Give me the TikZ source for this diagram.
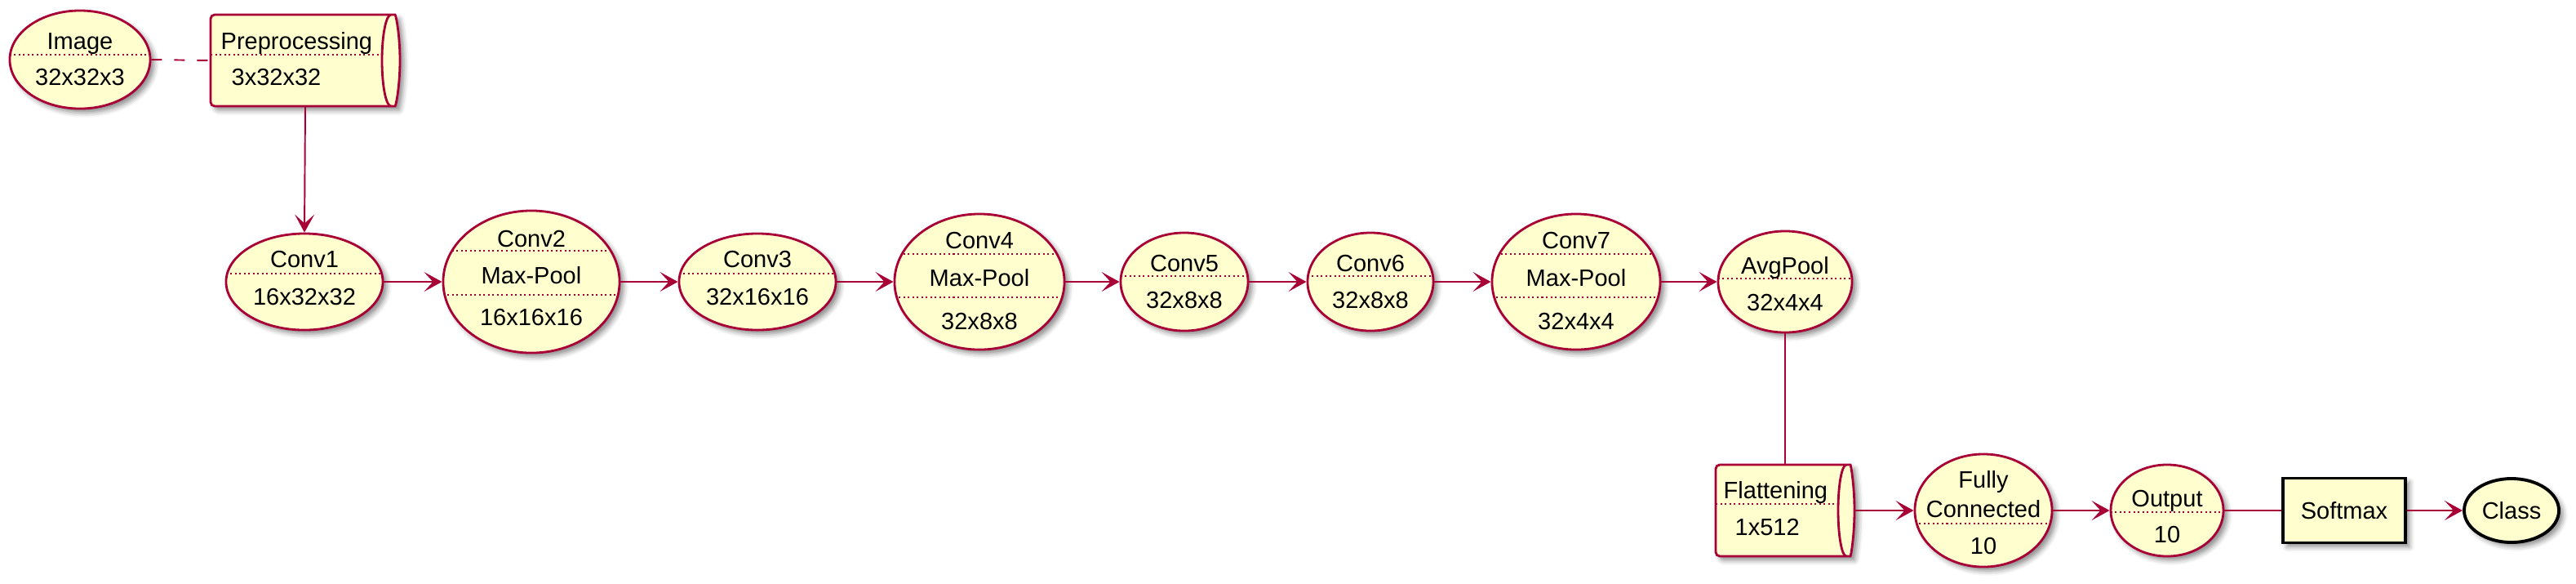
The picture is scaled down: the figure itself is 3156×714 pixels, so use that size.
\documentclass[tikz,border=0pt]{standalone}
\usepackage{fontspec}
\setmainfont{Liberation Sans}
\usepackage{tikz}
\usetikzlibrary{shapes.geometric}
\usetikzlibrary{arrows.meta}
\usetikzlibrary{shadows.blur}
\definecolor{umlred}{HTML}{A80036}
\definecolor{umlyellow}{HTML}{FEFECE}
\tikzset{umlshadow/.style={blur shadow={shadow xshift=0.05cm, shadow yshift=-0.05cm, shadow blur radius=0.06cm, shadow opacity=45}}}
\tikzset{layer/.style={ellipse, draw=umlred, fill=umlyellow, line width=0.8pt, inner sep=0pt, umlshadow}}
\tikzset{sepline/.style={umlred, line width=0.5pt, dash pattern=on 0.02cm off 0.035cm}}
\tikzset{onesep/.style={path picture={
    \draw[sepline] ([yshift=#1]path picture bounding box.west) -- ([yshift=#1]path picture bounding box.east);}}}
\tikzset{twosep/.style 2 args={path picture={
    \draw[sepline] ([yshift=#1]path picture bounding box.west) -- ([yshift=#1]path picture bounding box.east);
    \draw[sepline] ([yshift=#2]path picture bounding box.west) -- ([yshift=#2]path picture bounding box.east);}}}
\tikzset{txt/.style={anchor=base, inner sep=0pt}}
\tikzstyle{queue} = [draw=umlred, fill=umlyellow, line width=0.8pt, umlshadow]
\tikzstyle{queuenode} = [rectangle, inner sep=0pt]
\tikzstyle{flow} = [draw=umlred, line width=0.55pt, -{Stealth[length=0.22cm, width=0.24cm, inset=0.11cm]}]
\tikzstyle{plainline} = [draw=umlred, line width=0.55pt]

\begin{document}
\begin{tikzpicture}[x=0.01cm, y=0.01cm, font=\fontsize{8.25}{10}\selectfont]
\useasboundingbox (0,0) rectangle (3156,-714);

% input and preprocessing
\node[layer, onesep=0.06cm, minimum width=1.72cm, minimum height=1.20cm] (image) at (98,-73) {};
\node[txt] (image-a) at (98,-60) {Image};
\node[txt] (image-b) at (98,-104) {32x32x3};

\node[queuenode, minimum width=2.32cm, minimum height=1.12cm] (prep) at (374,-74) {};
\path[queue] (258,-74) [rounded corners=0.05cm] -- (258,-18) -- (479,-18)
  arc[start angle=90, end angle=-90, x radius=11, y radius=56] -- (258,-130) -- cycle;
\draw[umlred, line width=0.8pt] (479,-18) arc[start angle=90, end angle=270, x radius=11, y radius=56];
\draw[sepline] (258,-67) -- (468,-67);
\node[txt, anchor=base west] (prep-a) at (270,-60) {Preprocessing};
\node[txt, anchor=base west] (prep-b) at (283,-104) {3x32x32};

% convolution layers
\node[layer, onesep=0.10cm, minimum width=1.92cm, minimum height=1.18cm] (conv1) at (373,-345) {};
\node[txt] (conv1-a) at (373,-327) {Conv1};
\node[txt] (conv1-b) at (373,-373) {16x32x32};

\node[layer, twosep={0.38cm}{-0.16cm}, minimum width=2.16cm, minimum height=1.74cm] (conv2) at (651,-345) {};
\node[txt] (conv2-a) at (651,-302) {Conv2};
\node[txt] (conv2-b) at (651,-347) {Max-Pool};
\node[txt] (conv2-c) at (651,-398) {16x16x16};

\node[layer, onesep=0.10cm, minimum width=1.92cm, minimum height=1.18cm] (conv3) at (928,-345) {};
\node[txt] (conv3-a) at (928,-327) {Conv3};
\node[txt] (conv3-b) at (928,-373) {32x16x16};

\node[layer, twosep={0.34cm}{-0.19cm}, minimum width=2.08cm, minimum height=1.66cm] (conv4) at (1200,-345) {};
\node[txt] (conv4-a) at (1200,-304) {Conv4};
\node[txt] (conv4-b) at (1200,-350) {Max-Pool};
\node[txt] (conv4-c) at (1200,-403) {32x8x8};

\node[layer, onesep=0.07cm, minimum width=1.56cm, minimum height=1.20cm] (conv5) at (1451,-345) {};
\node[txt] (conv5-a) at (1451,-332) {Conv5};
\node[txt] (conv5-b) at (1451,-377) {32x8x8};

\node[layer, onesep=0.07cm, minimum width=1.54cm, minimum height=1.20cm] (conv6) at (1679,-345) {};
\node[txt] (conv6-a) at (1679,-332) {Conv6};
\node[txt] (conv6-b) at (1679,-377) {32x8x8};

\node[layer, twosep={0.34cm}{-0.19cm}, minimum width=2.06cm, minimum height=1.66cm] (conv7) at (1931,-345) {};
\node[txt] (conv7-a) at (1931,-304) {Conv7};
\node[txt] (conv7-b) at (1931,-350) {Max-Pool};
\node[txt] (conv7-c) at (1931,-403) {32x4x4};

\node[layer, onesep=0.04cm, minimum width=1.64cm, minimum height=1.24cm] (avgpool) at (2187,-345) {};
\node[txt] (avgpool-a) at (2187,-335) {AvgPool};
\node[txt] (avgpool-b) at (2187,-380) {32x4x4};

% classifier
\node[queuenode, minimum width=1.70cm, minimum height=1.12cm] (flat) at (2187,-625) {};
\path[queue] (2102,-625) [rounded corners=0.05cm] -- (2102,-569) -- (2262,-569)
  arc[start angle=90, end angle=-90, x radius=10, y radius=56] -- (2102,-681) -- cycle;
\draw[umlred, line width=0.8pt] (2262,-569) arc[start angle=90, end angle=270, x radius=10, y radius=56];
\draw[sepline] (2102,-617) -- (2252,-617);
\node[txt, anchor=base west] (flat-a) at (2111,-610) {Flattening};
\node[txt, anchor=base west] (flat-b) at (2125,-655) {1x512};

\node[layer, onesep=-0.16cm, minimum width=1.68cm, minimum height=1.38cm] (fc) at (2430,-625) {};
\node[txt] (fc-a) at (2430,-597) {Fully};
\node[txt] (fc-b) at (2430,-633) {Connected};
\node[txt] (fc-c) at (2430,-678) {10};

\node[layer, onesep=-0.02cm, minimum width=1.38cm, minimum height=1.12cm] (output) at (2655,-625) {};
\node[txt] (output-a) at (2655,-620) {Output};
\node[txt] (output-b) at (2655,-664) {10};

\node[rectangle, draw=black, fill=umlyellow, line width=1.1pt, umlshadow,
  minimum width=1.50cm, minimum height=0.79cm] (softmax) at (2872,-625) {Softmax};
\node[ellipse, draw=black, fill=umlyellow, line width=1.1pt, umlshadow, inner sep=0pt,
  minimum width=1.16cm, minimum height=0.78cm] (class) at (3077,-625) {Class};

% connectors
\draw[umlred, line width=0.55pt, dash pattern=on 0.13cm off 0.15cm] (image.east) -- (prep.west);
\draw[flow] (prep.south) -- (conv1.north);
\foreach \a/\b in {conv1/conv2, conv2/conv3, conv3/conv4, conv4/conv5, conv5/conv6, conv6/conv7, conv7/avgpool}
  \draw[flow] (\a) -- (\b);
\draw[plainline] (avgpool) -- (flat);
\draw[flow] (flat) -- (fc);
\draw[flow] (fc) -- (output);
\draw[plainline] (output) -- (softmax);
\draw[flow] (softmax) -- (class);
\end{tikzpicture}
\end{document}
